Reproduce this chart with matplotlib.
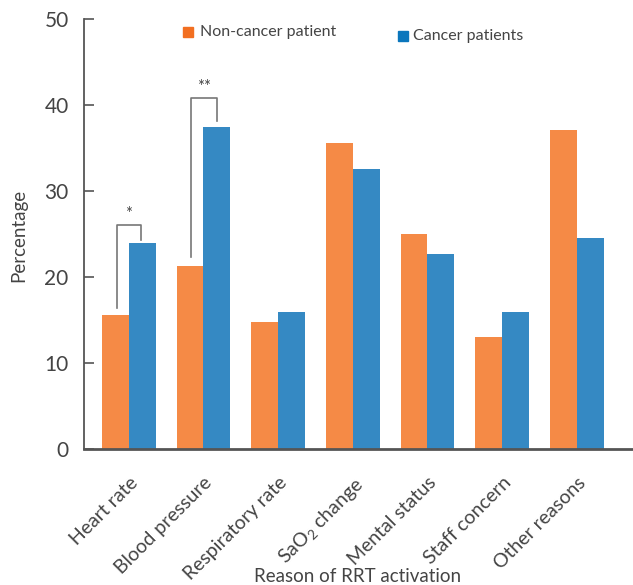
import numpy as np
import matplotlib
matplotlib.use("Agg")
import matplotlib.pyplot as plt
from matplotlib.patches import Rectangle

categories = ["Heart rate", "Blood pressure", "Respiratory rate", "SaO$_2$ change",
              "Mental status", "Staff concern", "Other reasons"]
non_cancer = [15.5, 21.3, 14.8, 35.6, 25.0, 13.0, 37.1]
cancer = [23.9, 37.4, 15.9, 32.5, 22.6, 15.9, 24.5]
yticks = [0, 10, 20, 30, 40, 50]

plt.rcParams["font.family"] = ["Lato", "DejaVu Sans"]
plt.rcParams["mathtext.fontset"] = "custom"
plt.rcParams["mathtext.rm"] = "Lato"
plt.rcParams["mathtext.it"] = "Lato:italic"

text_col = "#444444"
axis_col = "#555555"
c_orange = "#F58A46"
c_blue = "#3589C3"

fig = plt.figure(figsize=(6.33, 5.85), dpi=100)
ax = fig.add_axes([84 / 633, 1 - 448.7 / 585, (632 - 84) / 633, (448.7 - 19) / 585])

x = np.arange(len(categories))
w = 0.36
ax.bar(x - w / 2, non_cancer, w, color=c_orange, zorder=2)
ax.bar(x + w / 2, cancer, w, color=c_blue, zorder=2)

ax.set_xlim(-0.6, 6.74)
ax.set_ylim(0, 50)
ax.set_yticks(yticks)
ax.set_xticks(x)
ax.set_xticklabels(categories, rotation=45, ha="right", rotation_mode="anchor",
                   fontsize=14, color=text_col)
ax.tick_params(axis="x", length=0, pad=18)
ax.tick_params(axis="y", direction="in", length=7, width=1.2, color=axis_col,
               labelsize=15, labelcolor=text_col, pad=11)
for s in ["top", "right"]:
    ax.spines[s].set_visible(False)
ax.spines["left"].set_color(axis_col)
ax.spines["left"].set_linewidth(1.3)
ax.spines["bottom"].set_color(axis_col)
ax.spines["bottom"].set_linewidth(2)
ax.spines["bottom"].set_zorder(3)

fig.text(19 / 633, 1 - 235 / 585, "Percentage", fontsize=13.5, color=text_col,
         rotation=90, ha="center", va="center")
fig.text(358 / 633, 1 - 577 / 585, "Reason of RRT activation", fontsize=13.5,
         color=text_col, ha="center", va="center")

# significance brackets
br_col = "#777777"
ax.plot([-0.16, -0.16, 0.16, 0.16], [16.4, 26.0, 26.0, 24.3], color=br_col, lw=1.2, zorder=3)
ax.text(0, 26.4, "*", ha="center", va="bottom", fontsize=12, color=text_col)
ax.plot([1 - 0.17, 1 - 0.17, 1 + 0.18, 1 + 0.18], [22.3, 40.8, 40.8, 38.1], color=br_col, lw=1.2, zorder=3)
ax.text(1.005, 41.1, "**", ha="center", va="bottom", fontsize=12, color=text_col)

# legend
fig.patches.append(Rectangle((183 / 633, 1 - 37 / 585), 10 / 633, 10 / 585,
                             transform=fig.transFigure, color="#F26F21"))
fig.text(200 / 633, 1 - 32 / 585, "Non-cancer patient", fontsize=11.5, color=text_col, va="center")
fig.patches.append(Rectangle((398 / 633, 1 - 41 / 585), 10 / 633, 10 / 585,
                             transform=fig.transFigure, color="#0A76BC"))
fig.text(413 / 633, 1 - 36 / 585, "Cancer patients", fontsize=11.5, color=text_col, va="center")

fig.savefig("out.png", dpi=100)
